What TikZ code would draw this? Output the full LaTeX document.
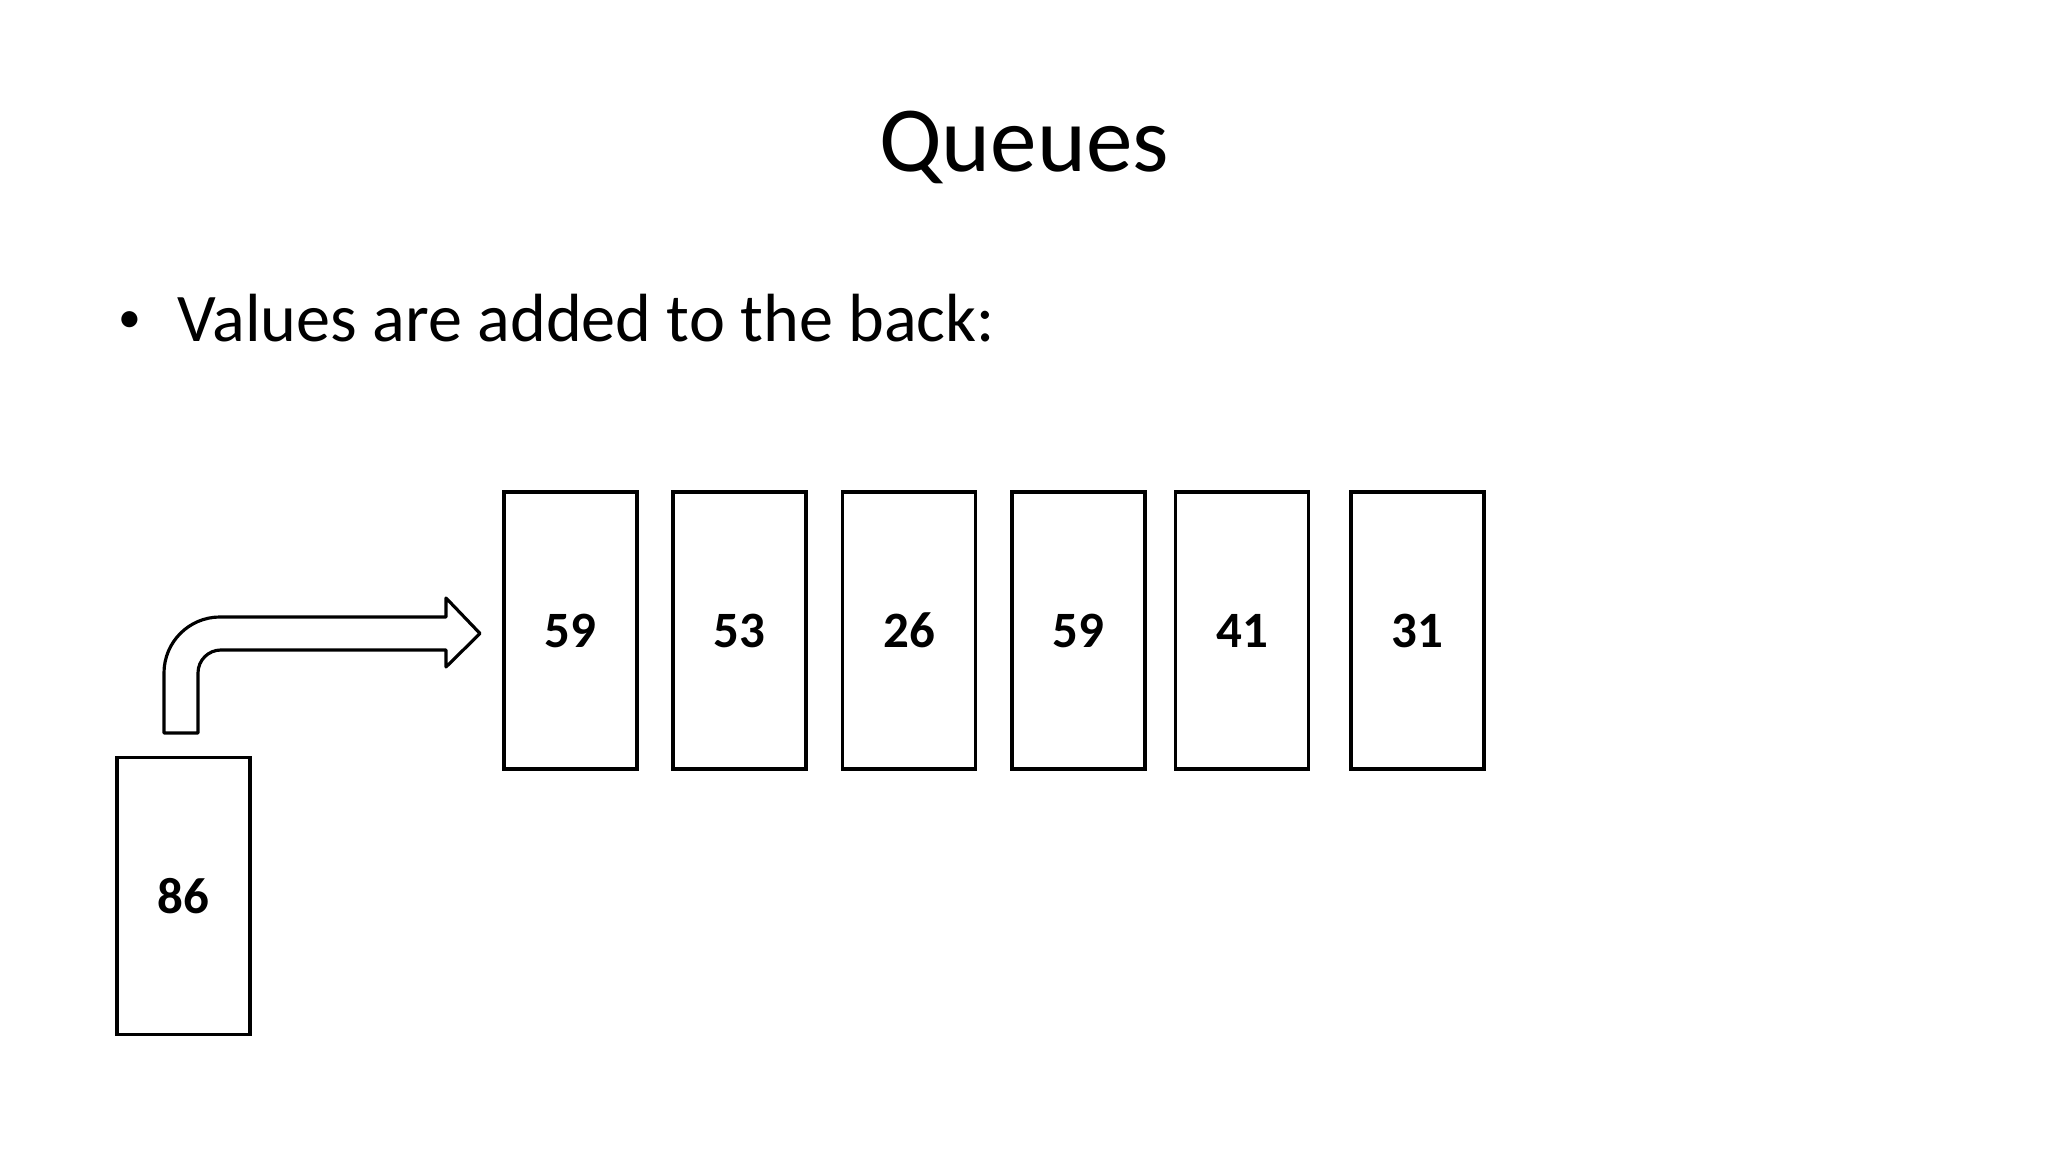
\documentclass[tikz,border=0pt]{standalone}
\usepackage{fontspec}
\setmainfont{Carlito}
\usepackage{tikz}

\begin{document}
\begin{tikzpicture}[
    cell/.style={draw, line width=0.9pt, minimum width=1.33cm, minimum height=2.77cm,
      inner sep=0pt, font=\fontsize{14.5}{17}\selectfont\bfseries}
  ]
    % page
    \fill[white] (0,0) rectangle (20.48,11.52);
    \useasboundingbox (0,0) rectangle (20.48,11.52);

    % title
    \node[anchor=base] (title) at (10.24,9.80) {\fontsize{26.5}{31}\selectfont Queues};

    % bullet
    \node (dot) at (1.30,8.30) {\fontsize{13}{15}\selectfont\textbullet};
    \node[anchor=base west, inner sep=0pt] (line) at (1.77,8.10) {\fontsize{19.4}{23}\selectfont Values are added to the back:};

    % queue
    \node[cell] (q1) at (5.705,5.215) {59};
    \node[cell] (q2) at (7.395,5.215) {53};
    \node[cell] (q3) at (9.09,5.215) {26};
    \node[cell] (q4) at (10.785,5.215) {59};
    \node[cell] (q5) at (12.42,5.215) {41};
    \node[cell] (q6) at (14.175,5.215) {31};

    % new value
    \node[cell] (new) at (1.835,2.56) {86};

    % bent arrow
    \draw[line width=0.9pt, line join=round] (1.64,4.19) -- (1.64,4.79) arc (180:90:0.56)
      -- (4.46,5.35) -- (4.46,5.54) -- (4.80,5.185) -- (4.46,4.85) -- (4.46,5.02)
      -- (2.21,5.02) arc (90:180:0.23) -- (1.98,4.19) -- cycle;
  \end{tikzpicture}
\end{document}
